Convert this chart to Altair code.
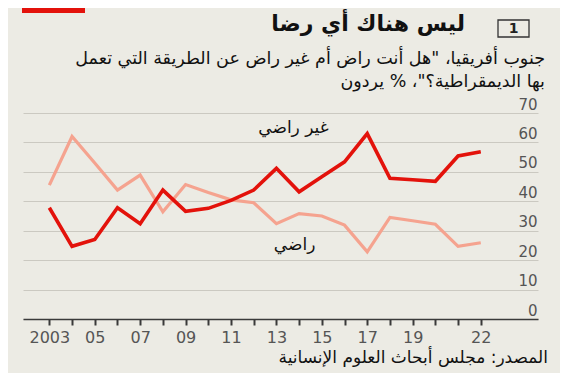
import altair as alt
import pandas as pd

# ---- data ----
years = list(range(2003, 2023))
satisfied = [45.5, 62.0, 53.0, 43.8, 48.9, 36.4, 45.7, 43.0, 40.5, 39.5,
             32.4, 35.8, 35.0, 31.9, 22.8, 34.5, 33.4, 32.2, 24.7, 25.9]
dissatisfied = [37.8, 24.7, 27.0, 37.8, 32.4, 43.8, 36.6, 37.6, 40.3, 43.8,
                51.2, 43.2, 48.3, 53.4, 63.0, 47.8, 47.3, 46.8, 55.4, 56.8]
series_names = ["راضي", "غير راضي"]
series_colors = ["#f5a38f", "#e3120b"]

tick_years = list(range(2003, 2023))
label_years = [2003, 2005, 2007, 2009, 2011, 2013, 2015, 2017, 2019, 2022]
label_texts = ["2003", "05", "07", "09", "11", "13", "15", "17", "19", "22"]
y_ticks = [0, 10, 20, 30, 40, 50, 60, 70]

ann_text = ["غير راضي", "راضي"]
ann_year = [2013.75, 2013.8]
ann_value = [64.9, 25.1]

title = "ليس هناك أي رضا"
subtitle1 = "جنوب أفريقيا، \"هل أنت راض أم غير راض عن الطريقة التي تعمل"
subtitle2 = "بها الديمقراطية؟\"، % يردون"
source = "المصدر: مجلس أبحاث العلوم الإنسانية"
chart_no = "1"

FONT = "DejaVu Sans"
BG = "#ecebe4"

df = pd.DataFrame({
    "year": years * 2,
    "value": satisfied + dissatisfied,
    "series": [series_names[0]] * len(years) + [series_names[1]] * len(years),
})
ann = pd.DataFrame({"text": ann_text, "year": ann_year, "value": ann_value})
one = pd.DataFrame({"k": [0]})

label_expr = ""
for yv, t in zip(label_years, label_texts):
    label_expr += f"datum.value == {yv} ? '{t}' : "
label_expr += "''"

x_scale = alt.Scale(domain=[2001.84, 2024.52], nice=False, zero=False)
y_scale = alt.Scale(domain=[0, 70], nice=False, zero=False)

x_axis = alt.Axis(values=tick_years, labelExpr=label_expr, title=None, grid=False,
                  domain=True, domainColor="#3a3a3a", domainWidth=1.5,
                  ticks=True, tickColor="#3a3a3a", tickWidth=2, tickSize=6,
                  labelFont=FONT, labelFontSize=16, labelColor="#555555",
                  labelPadding=4, labelFlush=False, labelOverlap=False)
y_axis = alt.Axis(orient="right", values=y_ticks, title=None, domain=False,
                  ticks=False, tickSize=0, grid=True, gridColor="#cbc9c1", gridWidth=1.2,
                  labelAlign="right", labelBaseline="alphabetic", labelPadding=-1,
                  labelOffset=-4, labelFont=FONT, labelFontSize=15, labelColor="#555555")

light = alt.Chart(df).transform_filter(
    alt.datum.series == series_names[0]
).mark_line(strokeWidth=3.2, color=series_colors[0]).encode(
    x=alt.X("year:Q", scale=x_scale, axis=x_axis),
    y=alt.Y("value:Q", scale=y_scale, axis=y_axis),
)
dark = alt.Chart(df).transform_filter(
    alt.datum.series == series_names[1]
).mark_line(strokeWidth=3.6, color=series_colors[1]).encode(
    x=alt.X("year:Q", scale=x_scale, axis=x_axis),
    y=alt.Y("value:Q", scale=y_scale, axis=y_axis),
)
labels = alt.Chart(ann).mark_text(font=FONT, fontSize=17, color="#111111",
                                  align="center", baseline="middle").encode(
    x=alt.X("year:Q", scale=x_scale, axis=x_axis),
    y=alt.Y("value:Q", scale=y_scale, axis=y_axis),
    text="text:N",
)

# plot area origin is at page (23, 113)
red_bar = alt.Chart(one).mark_rect(color="#e3120b").encode(
    x=alt.value(-1), x2=alt.value(62), y=alt.value(-105), y2=alt.value(-100))
box = alt.Chart(one).mark_rect(fill=None, stroke="#333333", strokeWidth=1.3).encode(
    x=alt.value(475), x2=alt.value(506), y=alt.value(-93), y2=alt.value(-76))
box_num = alt.Chart(one).mark_text(text=chart_no, font=FONT, fontSize=14, fontWeight="bold",
                                   color="#222222", align="center", baseline="middle").encode(
    x=alt.value(490.5), y=alt.value(-84))
title_t = alt.Chart(one).mark_text(text=title, font=FONT, fontSize=22, fontWeight="bold",
                                   color="#111111", align="right", baseline="middle").encode(
    x=alt.value(442), y=alt.value(-89))
sub1 = alt.Chart(one).mark_text(text=subtitle1, font=FONT, fontSize=17.5,
                                color="#111111", align="right", baseline="middle").encode(
    x=alt.value(522), y=alt.value(-54))
sub2 = alt.Chart(one).mark_text(text=subtitle2, font=FONT, fontSize=17.5,
                                color="#111111", align="right", baseline="middle").encode(
    x=alt.value(522), y=alt.value(-31))
src = alt.Chart(one).mark_text(text=source, font=FONT, fontSize=17,
                               color="#111111", align="right", baseline="middle").encode(
    x=alt.value(525), y=alt.value(245))

chart = alt.layer(light, dark, labels, red_bar, box, box_num, title_t, sub1, sub2, src).properties(
    width=515, height=206,
    autosize=alt.AutoSizeParams(type="none"),
    padding={"left": 15, "top": 105, "right": 22, "bottom": 54},
    background=BG,
).configure_view(stroke=None)

chart.save("out.html", embed_options={"renderer": "svg", "actions": False})
